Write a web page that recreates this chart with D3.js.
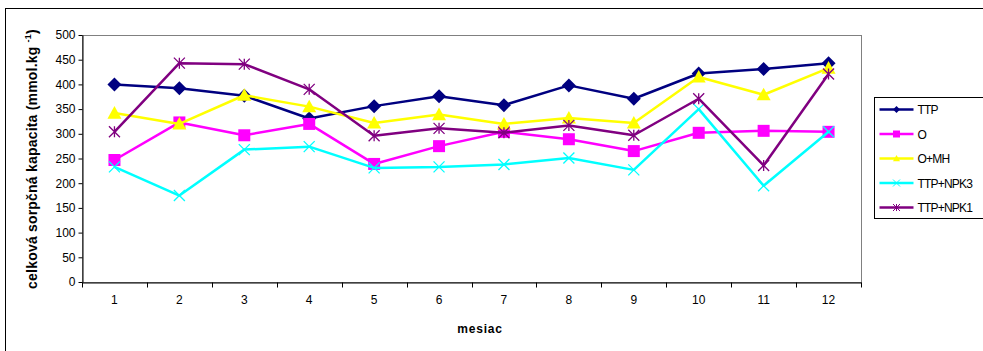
<!DOCTYPE html>
<html>
<head>
<meta charset="utf-8">
<script src="https://cdn.jsdelivr.net/npm/d3@7"></script>
<style>
  html, body { margin: 0; padding: 0; background: #fff; overflow: hidden; }
  svg { display: block; font-family: "Liberation Sans", Arial, sans-serif; }
</style>
</head>
<body>
<svg id="chart" width="983" height="351"></svg>
<script>
// Mesiace na osi x a hodnoty celkovej sorpčnej kapacity pre každý variant
const months = ['1', '2', '3', '4', '5', '6', '7', '8', '9', '10', '11', '12'];
const yTicks = [0, 50, 100, 150, 200, 250, 300, 350, 400, 450, 500];

const ttp     = [400, 392, 377, 331, 356, 376, 358, 398, 371, 422, 431, 443];
const o       = [247, 323, 297, 320, 239, 275, 304, 289, 265, 302, 306, 304];
const oMh     = [342, 320, 378, 355, 322, 339, 320, 332, 322, 415, 379, 433];
const ttpNpk3 = [233, 175, 268, 274, 231, 233, 238, 251, 227, 350, 195, 304];
const ttpNpk1 = [304, 443, 441, 390, 296, 311, 302, 317, 297, 371, 236, 421];

const series = [
  { name: 'TTP',      values: ttp,     color: '#000080', marker: 'diamond' },
  { name: 'O',        values: o,       color: '#FF00FF', marker: 'square' },
  { name: 'O+MH',     values: oMh,     color: '#FFFF00', marker: 'triangle' },
  { name: 'TTP+NPK3', values: ttpNpk3, color: '#00FFFF', marker: 'cross' },
  { name: 'TTP+NPK1', values: ttpNpk1, color: '#800080', marker: 'star' },
];

// ── rozloženie ──
const PLOT = { left: 82, top: 35, right: 861, bottom: 282 };

const svg = d3.select('#chart');

// vonkajší rámček grafu (pokračuje za okraj obrázka)
svg.append('rect')
  .attr('x', 5.5).attr('y', 8.5).attr('width', 1100).attr('height', 500)
  .attr('fill', '#fff').attr('stroke', '#000').attr('stroke-width', 1);

const x = d3.scaleBand().domain(months).range([PLOT.left, PLOT.right]);
const y = d3.scaleLinear().domain([0, 500]).range([PLOT.bottom, PLOT.top]);

// plocha grafu: šedý rámček
svg.append('rect')
  .attr('x', PLOT.left + 0.5).attr('y', PLOT.top + 0.5)
  .attr('width', PLOT.right - PLOT.left).attr('height', PLOT.bottom - PLOT.top)
  .attr('fill', 'none').attr('stroke', '#808080').attr('stroke-width', 1);

// os y
const yAxis = svg.append('g')
  .attr('transform', `translate(${PLOT.left + 0.5},0)`)
  .call(d3.axisLeft(y).tickValues(yTicks).tickSize(4).tickPadding(3).tickSizeOuter(0));
yAxis.select('.domain').attr('stroke', '#000');
yAxis.selectAll('.tick line').attr('stroke', '#000');
yAxis.selectAll('text').attr('font-size', 12).attr('fill', '#000')
  .attr('font-family', '"Liberation Sans", Arial, sans-serif');

// os x: značky medzi kategóriami
const xAxis = svg.append('g')
  .attr('transform', `translate(0,${PLOT.bottom + 0.5})`)
  .call(d3.axisBottom(x).tickSize(0).tickPadding(13).tickSizeOuter(0));
xAxis.select('.domain').attr('stroke', '#000');
xAxis.selectAll('text').attr('font-size', 12).attr('fill', '#000')
  .attr('font-family', '"Liberation Sans", Arial, sans-serif');
const boundaries = months.map(m => x(m)).concat([x.range()[1]]);
xAxis.selectAll('line.sep').data(boundaries).join('line')
  .attr('class', 'sep')
  .attr('x1', d => Math.round(d) + 0.5).attr('x2', d => Math.round(d) + 0.5)
  .attr('y1', 0).attr('y2', 5).attr('stroke', '#000');

// názvy osí
svg.append('text')
  .attr('x', 480).attr('y', 333)
  .attr('text-anchor', 'middle').attr('font-size', 12).attr('font-weight', 'bold')
  .attr('letter-spacing', 0.8)
  .text('mesiac');

const yTitle = svg.append('text')
  .attr('transform', `translate(37,159) rotate(-90)`)
  .attr('text-anchor', 'middle').attr('font-size', 14).attr('font-weight', 'bold')
  .attr('letter-spacing', 0.2);
yTitle.append('tspan').text('celková sorpčná kapacita (mmol.kg  ');
yTitle.append('tspan').attr('font-size', 9).attr('dy', -6).text('-1');
yTitle.append('tspan').attr('dy', 6).text(')');

// tvary značiek
function markerPath(type, s) {
  const h = s / 2;
  switch (type) {
    case 'diamond': return `M0,${-h}L${h},0L0,${h}L${-h},0Z`;
    case 'square': return `M${-h},${-h}H${h}V${h}H${-h}Z`;
    case 'triangle': return `M0,${-h}L${h},${h * 0.8}L${-h},${h * 0.8}Z`;
    case 'cross': return `M${-h},${-h}L${h},${h}M${h},${-h}L${-h},${h}`;
    case 'star': return `M${-h},${-h}L${h},${h}M${h},${-h}L${-h},${h}M0,${-h}V${h}`;
  }
}
const filled = t => t === 'diamond' || t === 'square' || t === 'triangle';

const line = d3.line().x((d, i) => x(months[i]) + x.bandwidth() / 2).y(d => y(d));
const markerSize = { diamond: 14, square: 12, triangle: 14, cross: 11, star: 11 };

series.forEach(s => {
  const g = svg.append('g');
  g.append('path').datum(s.values)
    .attr('d', line).attr('fill', 'none')
    .attr('stroke', s.color).attr('stroke-width', 2.5).attr('stroke-linejoin', 'round');
  g.selectAll('path.mk').data(s.values).join('path')
    .attr('class', 'mk')
    .attr('transform', (d, i) => `translate(${x(months[i]) + x.bandwidth() / 2},${y(d)})`)
    .attr('d', markerPath(s.marker, markerSize[s.marker]))
    .attr('fill', filled(s.marker) ? s.color : 'none')
    .attr('stroke', s.color).attr('stroke-width', filled(s.marker) ? 0 : 1.3);
});

// legenda
const legend = svg.append('g').attr('transform', 'translate(874.5,97.5)');
legend.append('rect').attr('width', 130).attr('height', 121)
  .attr('fill', '#fff').attr('stroke', '#000').attr('stroke-width', 1);
series.forEach((s, i) => {
  const row = legend.append('g').attr('transform', `translate(0,${12 + i * 24.5})`);
  row.append('line').attr('x1', 5).attr('x2', 39).attr('y1', 0).attr('y2', 0)
    .attr('stroke', s.color).attr('stroke-width', 2.5);
  row.append('path').attr('transform', 'translate(22,0)')
    .attr('d', markerPath(s.marker, 7))
    .attr('fill', filled(s.marker) ? s.color : 'none')
    .attr('stroke', s.color).attr('stroke-width', filled(s.marker) ? 0 : 1);
  row.append('text').attr('x', 43).attr('y', 4.5)
    .attr('font-size', 12).attr('letter-spacing', -0.8).text(s.name);
});
</script>
</body>
</html>
